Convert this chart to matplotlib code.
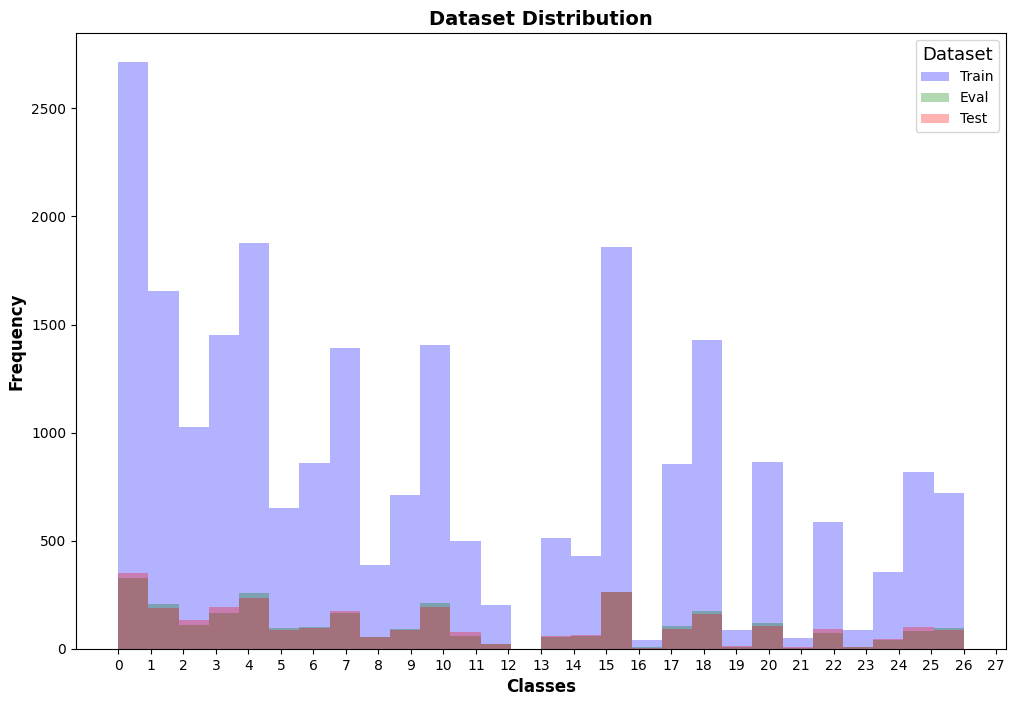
import numpy as np
import matplotlib
matplotlib.use("Agg")
import matplotlib.pyplot as plt

classes = list(range(27))
train_counts = [2712, 1654, 1026, 1451, 1876, 652, 860, 1391, 388, 712,
                1405, 499, 203, 513, 430, 1858, 42, 855, 1428, 88,
                864, 51, 587, 88, 356, 818, 721]
eval_counts = [328, 208, 111, 166, 259, 97, 102, 166, 54, 92,
               213, 60, 23, 55, 62, 263, 9, 106, 176, 9,
               120, 6, 74, 9, 42, 83, 97]
test_counts = [351, 189, 134, 194, 236, 88, 97, 176, 55, 88,
               194, 79, 23, 60, 65, 263, 5, 92, 162, 14,
               106, 9, 92, 9, 46, 102, 88]
xtick_labels = [str(i) for i in range(28)]

fig = plt.figure(figsize=(10.15, 7.03), dpi=100)
ax = fig.add_axes([76/1015, 54/703, 930/1015, 616/703])

n_bins = 28
ax.hist(classes, bins=n_bins, range=(0, 26), weights=train_counts,
        color='blue', alpha=0.3, label='Train')
ax.hist(classes, bins=n_bins, range=(0, 26), weights=eval_counts,
        color='green', alpha=0.3, label='Eval')
ax.hist(classes, bins=n_bins, range=(0, 26), weights=test_counts,
        color='red', alpha=0.3, label='Test')

ax.set_xticks(range(len(xtick_labels)))
ax.set_xticklabels(xtick_labels)
ax.set_title('Dataset Distribution', fontsize=14, fontweight='bold')
ax.set_xlabel('Classes', fontsize=12, fontweight='bold')
ax.set_ylabel('Frequency', fontsize=12, fontweight='bold')
leg = ax.legend(title='Dataset', loc='upper right')
leg.get_title().set_fontsize(13)

fig.savefig('out.png', dpi=100)
